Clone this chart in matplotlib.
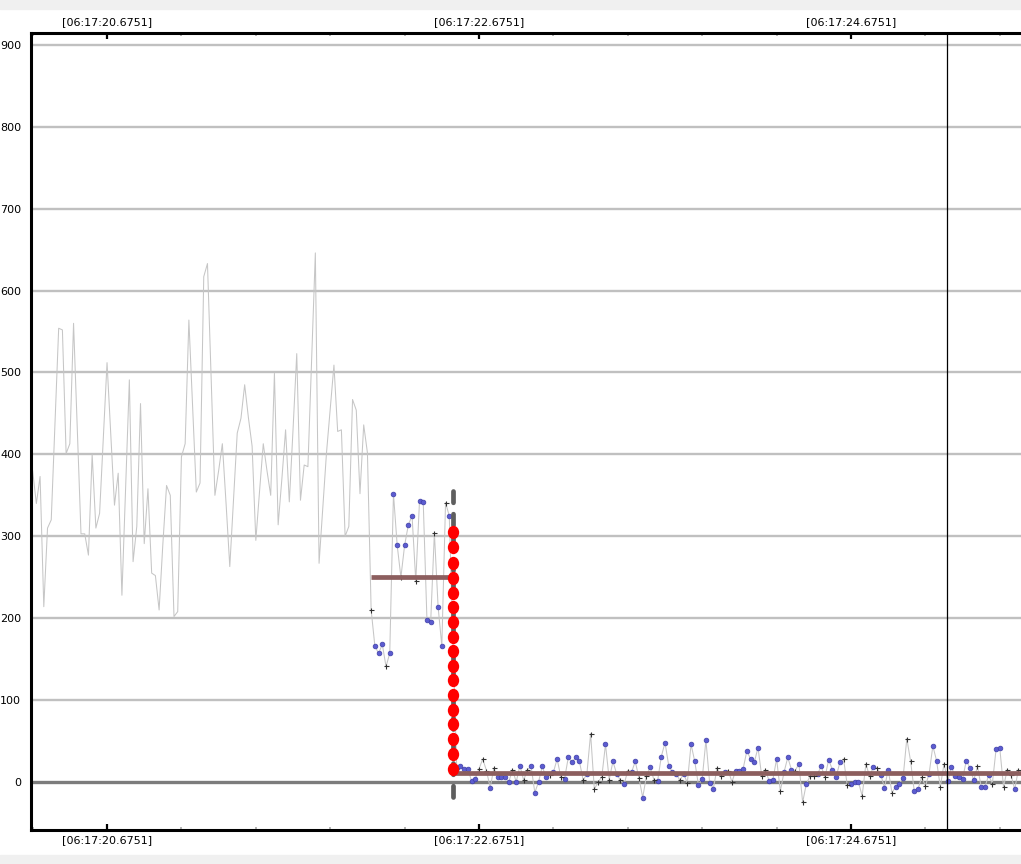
import numpy as np
import matplotlib.pyplot as plt
from matplotlib.path import Path
from matplotlib.patches import Rectangle
from matplotlib.ticker import MultipleLocator

# time axis: seconds after 06:17:20.6751, samples every 20 ms
t_start = -0.40
dt = 0.02

# raw signal (samples 0..90), drawn as plain grey line
raw_vals = [380, 340, 373, 214, 310, 320, 437, 554, 552, 401, 413, 560, 430, 303, 303,
            277, 400, 310, 328, 420, 512, 425, 338, 377, 228, 360, 491, 269, 312, 462,
            291, 358, 255, 252, 210, 290, 362, 350, 202, 208, 397, 413, 564, 460, 354,
            365, 617, 633, 490, 350, 380, 413, 340, 263, 345, 426, 444, 485, 445, 410,
            295, 355, 413, 380, 350, 499, 314, 370, 430, 342, 430, 523, 344, 387, 385,
            515, 646, 267, 335, 402, 455, 509, 428, 430, 300, 312, 467, 454, 352, 436, 402]

# marked window before the step (samples 91..112)
pre_vals = [210, 166, 157, 168, 141, 157, 352, 289, 250, 289, 314, 325, 245, 343, 342,
            198, 195, 304, 214, 166, 341, 325]

# step position (sample 113) and marked samples after it (114..265)
step_idx = 113
post_vals = [17, 19, 16, 16, 1, 4, 16, 28, 14, -7, 17, 6, 6, 6, 0, 15, 0, 20, 2, 15,
             19, -13, 0, 19, 6, 8, 12, 28, 6, 4, 30, 24, 30, 25, 2, 10, 59, -9, 0, 6,
             46, 3, 25, 10, 2, -3, 14, 12, 25, 5, -19, 7, 18, 3, 1, 31, 48, 20, 12, 10,
             2, 10, -1, 46, 25, -4, 4, 51, -1, -8, 17, 7, 12, 14, 0, 14, 14, 16, 38, 28,
             24, 42, 7, 15, 1, 3, 28, -11, 12, 30, 15, 14, 22, -25, -2, 7, 7, 10, 19, 6,
             27, 15, 6, 24, 28, -4, -2, 0, 0, -17, 22, 7, 18, 17, 9, -7, 15, -13, -6, -2,
             5, 53, 26, -11, -9, 6, -5, 10, 44, 26, -6, 22, 1, 18, 7, 6, 4, 26, 17, 2,
             19, -6, -6, 8, -2, 40, 41, -6, 15, 9, -9, 15]

# samples drawn with a '+' instead of a dot
plus_idx = [91, 95, 99, 103, 108, 111,
            120, 121, 122, 124, 129, 132, 133, 139, 142, 148, 150, 151, 152, 153, 155,
            158, 160, 163, 165, 167, 174, 176, 184, 185, 187, 188, 196, 197, 201, 205,
            207, 209, 210, 213, 218, 219, 223, 224, 225, 227, 231, 235, 236, 239, 240,
            244, 245, 254, 258, 261, 262, 263, 265]

# red dots along the step
red_dots = [305, 287, 267, 249, 231, 214, 195, 177, 160, 142, 125, 106, 88, 71, 52, 34, 16]
step_span = [355, -25]

# mean levels before / after the step
level_pre = 250
level_post = 10.5

cursor_t = 4.516

xtick_pos = [0, 2, 4]
xtick_labels = ['[06:17:20.6751]', '[06:17:22.6751]', '[06:17:24.6751]']
ytick_pos = [0, 100, 200, 300, 400, 500, 600, 700, 800, 900]

# ---- build series
raw_idx = np.arange(len(raw_vals))
pre_idx = np.arange(len(raw_vals), len(raw_vals) + len(pre_vals))
post_idx = np.arange(step_idx + 1, step_idx + 1 + len(post_vals))

all_idx = np.concatenate([raw_idx, pre_idx, post_idx])
all_vals = np.array(raw_vals + pre_vals + post_vals, dtype=float)
all_t = t_start + dt * all_idx

mark_idx = np.concatenate([pre_idx, post_idx])
mark_vals = np.array(pre_vals + post_vals, dtype=float)
mark_t = t_start + dt * mark_idx
is_plus = np.isin(mark_idx, plus_idx)
step_t = t_start + dt * step_idx

# ---- figure
fig = plt.figure(figsize=(10.21, 8.64), dpi=100, facecolor='white')
fig.patches.append(Rectangle((0, 0.990), 1, 0.010, transform=fig.transFigure,
                             color='#f0f0f0', zorder=0))
fig.patches.append(Rectangle((0, 0), 1, 0.0105, transform=fig.transFigure,
                             color='#f0f0f0', zorder=0))
ax = fig.add_axes([0.0304, 0.0394, 0.9696, 0.9224])

ax.set_xlim(-0.4086, 4.914)
ax.set_ylim(-58.6, 914.5)

# grid
for v in ytick_pos[1:]:
    ax.axhline(v, color='#c0c0c0', lw=1.7, zorder=1)
ax.axhline(0, color='#7c7c7c', lw=2.4, zorder=1)

# signal line
ax.plot(all_t, all_vals, color='#c6c6c6', lw=0.75, zorder=2)

# markers
ax.plot(mark_t[~is_plus], mark_vals[~is_plus], ls='none', marker='o', ms=3.4,
        mfc='#5c5cd0', mec='#3f3fa8', mew=0.5, zorder=3)
ax.plot(mark_t[is_plus], mark_vals[is_plus], ls='none', marker='+', ms=3.6,
        mec='#303030', mew=0.8, zorder=3)

# mean levels
ax.plot([pre_idx[0] * dt + t_start, pre_idx[-1] * dt + t_start + 0.004],
        [level_pre, level_pre], color='#8c5e5e', lw=3.4, solid_capstyle='butt', zorder=4)
ax.plot([step_t, 5.0], [level_post, level_post], color='#8c5e5e', lw=3.4,
        solid_capstyle='butt', zorder=4)

# step marker
ax.plot([step_t, step_t], step_span, color='#5e5e5e', lw=3.4,
        dashes=(2.4, 2.4), dash_capstyle='round', zorder=5)
ell = Path(Path.unit_circle().vertices * [0.85, 1.0], Path.unit_circle().codes)
ax.plot(np.full(len(red_dots), step_t), red_dots, ls='none', marker=ell, ms=9.6,
        mfc='#ff0000', mec='#ff0000', mew=0, zorder=6)

# cursor
ax.axvline(cursor_t, color='black', lw=0.9, zorder=7)

# axes styling
for side in ['left', 'top', 'bottom']:
    ax.spines[side].set_linewidth(2.2)
    ax.spines[side].set_color('black')
ax.spines['right'].set_visible(False)

ax.set_xticks(xtick_pos)
ax.set_xticklabels(xtick_labels)
ax.xaxis.set_minor_locator(MultipleLocator(0.4))
ax.tick_params(axis='x', which='major', direction='in', length=4.5, width=1.6,
               top=True, bottom=True, labeltop=True, labelbottom=True,
               labelsize=8, pad=4, color='black')
ax.tick_params(axis='x', which='minor', direction='in', length=2, width=1.2,
               top=True, bottom=True, color='#a8a8a8')
ax.set_yticks(ytick_pos)
ax.tick_params(axis='y', length=0, labelsize=8, pad=7)

fig.savefig('out.png', dpi=100, facecolor='white')
